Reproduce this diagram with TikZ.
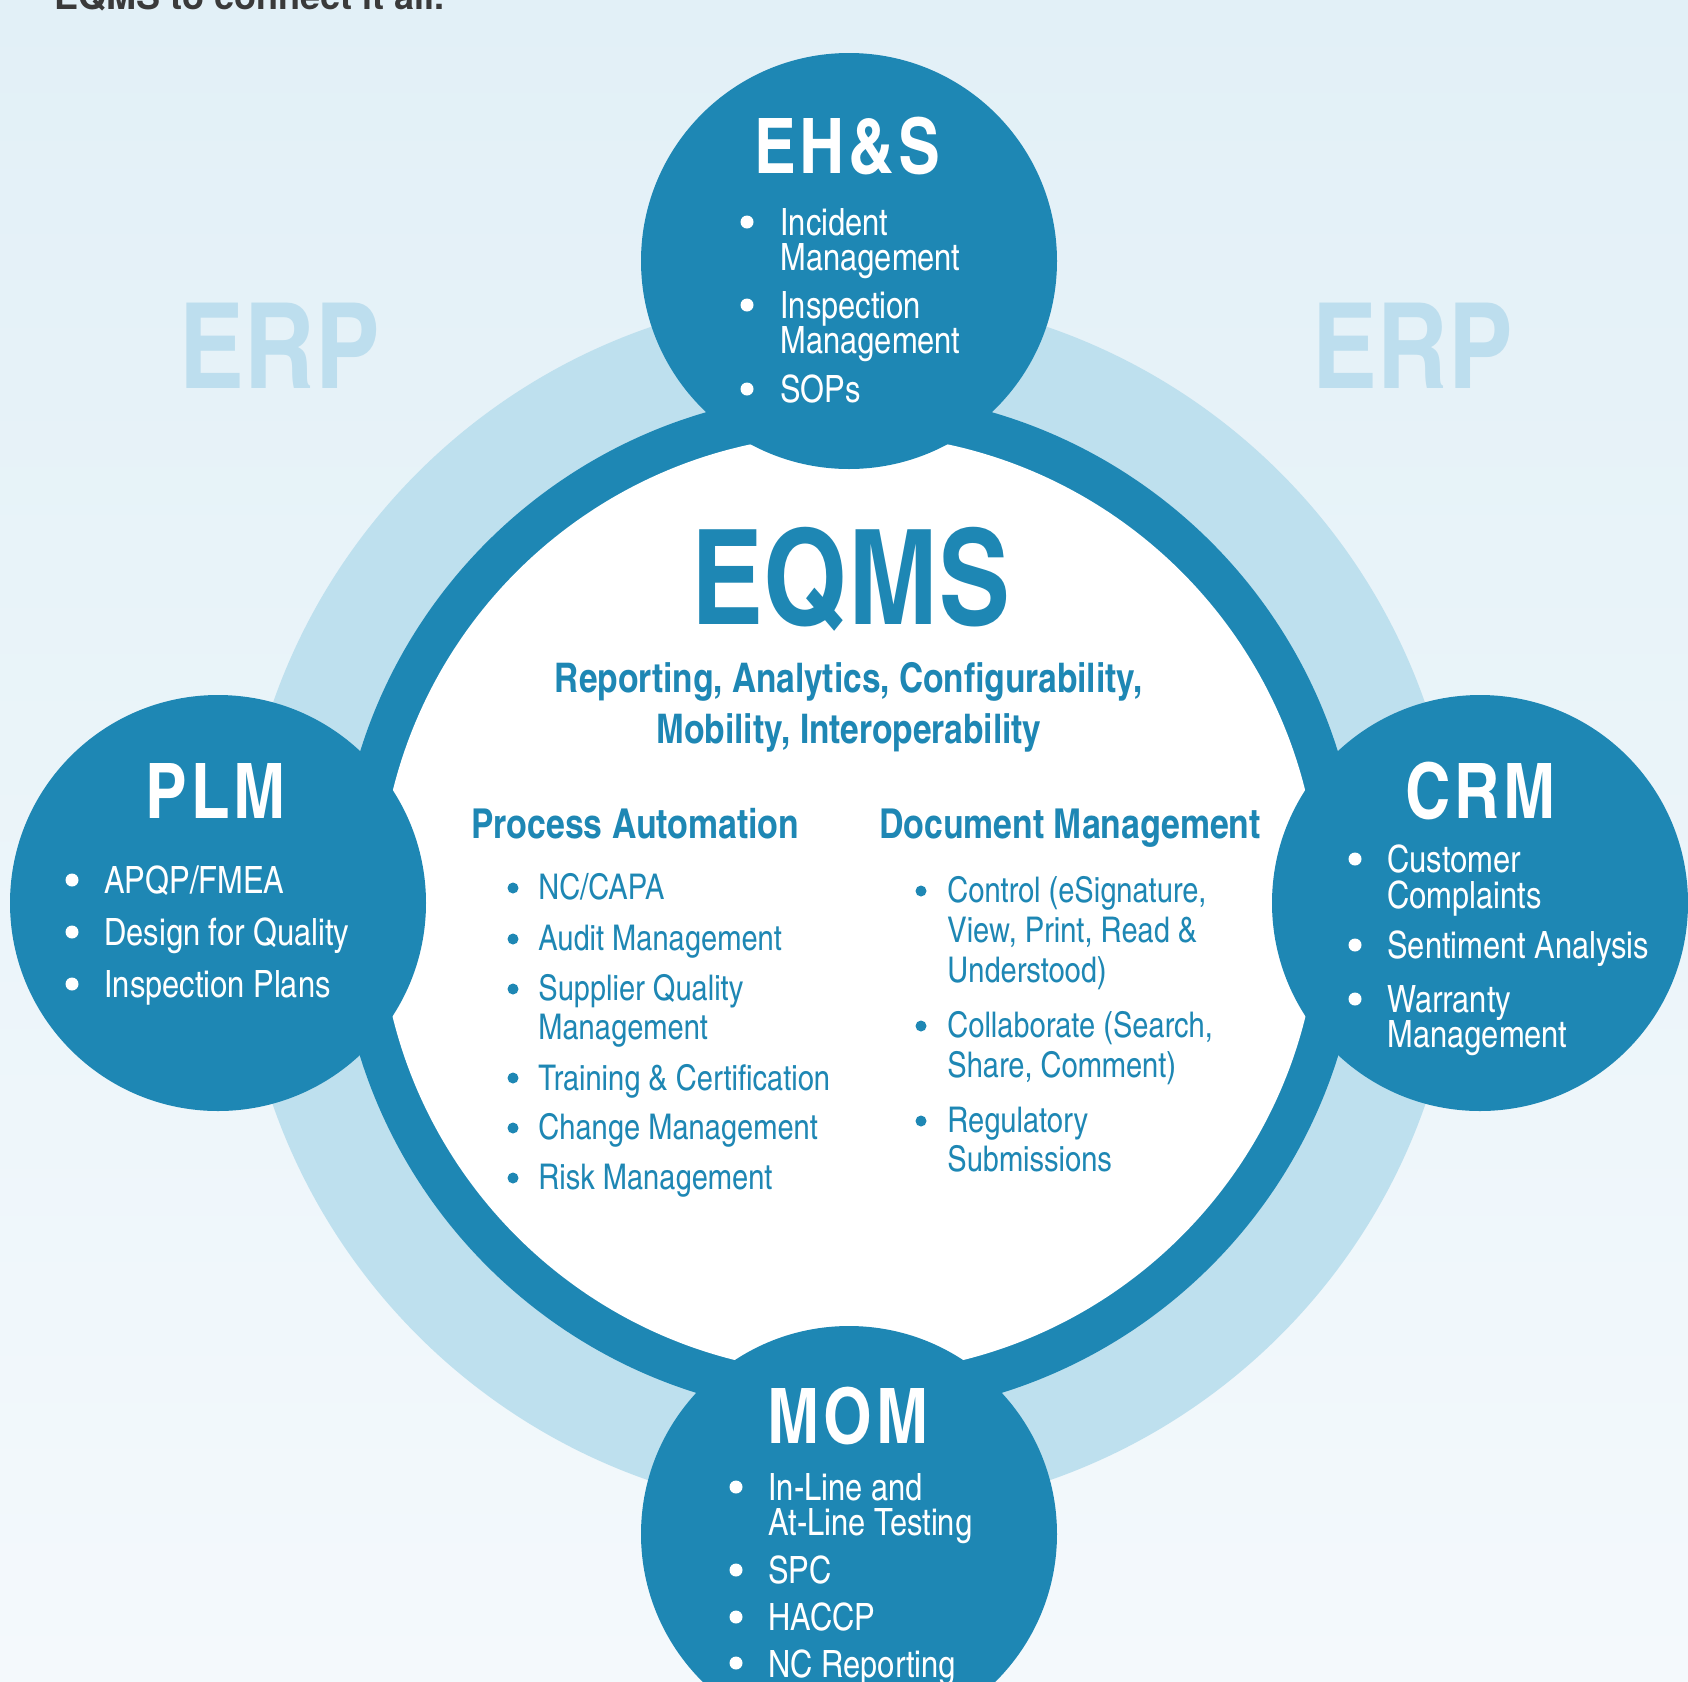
\documentclass[tikz,border=0pt]{standalone}
\usepackage{fontspec}
\setmainfont{texgyreheroscn}[Extension=.otf, UprightFont=*-regular, BoldFont=*-bold]
\newfontfamily\plainheros{TeX Gyre Heros}

\definecolor{eqblue}{HTML}{1E87B4}
\definecolor{ringblue}{HTML}{BEE0EE}
\definecolor{erpblue}{HTML}{BDDEEE}
\definecolor{bgtop}{HTML}{E2F0F7}
\definecolor{bgbottom}{HTML}{F4F9FC}
\definecolor{introgray}{HTML}{3A3A3A}

\tikzset{
  sattitle/.style={anchor=base, inner sep=0pt, text=white, font=\bfseries\fontsize{38.3}{40}\selectfont\addfontfeature{LetterSpace=5}},
  satitem/.style={anchor=base west, inner sep=0pt, text=white, font=\fontsize{18.8}{20}\selectfont},
  coreitem/.style={satitem, text=eqblue, font=\fontsize{17.7}{20}\selectfont},
  corehead/.style={anchor=base west, inner sep=0pt, text=eqblue, font=\bfseries\fontsize{20.6}{22}\selectfont},
  subline/.style={anchor=base, inner sep=0pt, text=eqblue, font=\bfseries\fontsize{20.4}{24}\selectfont},
  erpword/.style={anchor=base, inner sep=0pt, text=erpblue, font=\bfseries\fontsize{59.5}{62}\selectfont},
}

\begin{document}
\begin{tikzpicture}[x=0.5pt, y=-0.5pt]
    \clip (0,0) rectangle (1688,1682);
    \shade[top color=bgtop, bottom color=bgbottom] (0,0) rectangle (1688,1682);
    \node[anchor=base west, inner sep=0pt, text=introgray, font=\plainheros\bfseries\fontsize{18}{20}\selectfont] (intro) at (54,9) {EQMS to connect it all.};
    % rings
    \fill[ringblue] (849,904) circle[radius=610];
    \fill[eqblue] (849,904) circle[radius=512];
    \fill[white] (849,904) circle[radius=470];
    \node[erpword] (erpL) at (280,388) {ERP};
    \node[erpword] (erpR) at (1413,388) {ERP};
    % satellites
    \fill[eqblue] (849,261) circle[radius=208];
    \fill[eqblue] (218,903) circle[radius=208];
    \fill[eqblue] (1480,903) circle[radius=208];
    \fill[eqblue] (849,1534) circle[radius=208];
    % EH&S
    \node[sattitle] (ehsT) at (847,173) {EH\&S};
    \fill[white] (747,222) circle[radius=6.5];
    \fill[white] (747,305) circle[radius=6.5];
    \fill[white] (747,389) circle[radius=6.5];
    \node[satitem] (ehs1) at (780,235) {Incident};
    \node[satitem] (ehs2) at (780,270) {Management};
    \node[satitem] (ehs3) at (780,318) {Inspection};
    \node[satitem] (ehs4) at (780,353) {Management};
    \node[satitem] (ehs5) at (780,402) {SOPs};
    % PLM
    \node[sattitle] (plmT) at (216,818) {PLM};
    \fill[white] (72,880) circle[radius=6.5];
    \fill[white] (72,932) circle[radius=6.5];
    \fill[white] (72,984) circle[radius=6.5];
    \node[satitem] (plm1) at (104,893) {APQP/FMEA};
    \node[satitem] (plm2) at (104,945) {Design for Quality};
    \node[satitem] (plm3) at (104,997) {Inspection Plans};
    % CRM
    \node[sattitle] (crmT) at (1481,818) {CRM};
    \fill[white] (1355,859) circle[radius=6.5];
    \fill[white] (1355,945) circle[radius=6.5];
    \fill[white] (1355,999) circle[radius=6.5];
    \node[satitem] (crm1) at (1387,872) {Customer};
    \node[satitem] (crm2) at (1387,908) {Complaints};
    \node[satitem] (crm3) at (1387,958) {Sentiment Analysis};
    \node[satitem] (crm4) at (1387,1012) {Warranty};
    \node[satitem] (crm5) at (1387,1047) {Management};
    % MOM
    \node[sattitle] (momT) at (848,1443) {MOM};
    \fill[white] (736,1487) circle[radius=6.5];
    \fill[white] (736,1570) circle[radius=6.5];
    \fill[white] (736,1617) circle[radius=6.5];
    \fill[white] (736,1663) circle[radius=6.5];
    \node[satitem] (mom1) at (768,1500) {In-Line and};
    \node[satitem] (mom2) at (768,1535) {At-Line Testing};
    \node[satitem] (mom3) at (768,1583) {SPC};
    \node[satitem] (mom4) at (768,1630) {HACCP};
    \node[satitem] (mom5) at (768,1677) {NC Reporting};
    % EQMS core
    \node[anchor=base, inner sep=0pt, text=eqblue, font=\bfseries\fontsize{66}{66}\selectfont] (eqms) at (851,624) {EQMS};
    \node[subline] (sub1) at (849,692) {Reporting, Analytics, Configurability,};
    \node[subline] (sub2) at (849,743) {Mobility, Interoperability};
    \node[corehead] (pa) at (471,838) {Process Automation};
    \node[corehead] (dm) at (879,838) {Document Management};
    \fill[eqblue] (513,888) circle[radius=5.5];
    \fill[eqblue] (513,939) circle[radius=5.5];
    \fill[eqblue] (513,989) circle[radius=5.5];
    \fill[eqblue] (513,1078) circle[radius=5.5];
    \fill[eqblue] (513,1128) circle[radius=5.5];
    \fill[eqblue] (513,1178) circle[radius=5.5];
    \node[coreitem] (pa1) at (538,899) {NC/CAPA};
    \node[coreitem] (pa2) at (538,950) {Audit Management};
    \node[coreitem] (pa3) at (538,1000) {Supplier Quality};
    \node[coreitem] (pa4) at (538,1039) {Management};
    \node[coreitem] (pa5) at (538,1090) {Training \& Certification};
    \node[coreitem] (pa6) at (538,1139) {Change Management};
    \node[coreitem] (pa7) at (538,1189) {Risk Management};
    \fill[eqblue] (921,891) circle[radius=5.5];
    \fill[eqblue] (921,1026) circle[radius=5.5];
    \fill[eqblue] (921,1121) circle[radius=5.5];
    \node[coreitem] (dm1) at (947,902) {Control (eSignature,};
    \node[coreitem] (dm2) at (947,942) {View, Print, Read \&};
    \node[coreitem] (dm3) at (947,982) {Understood)};
    \node[coreitem] (dm4) at (947,1037) {Collaborate (Search,};
    \node[coreitem] (dm5) at (947,1077) {Share, Comment)};
    \node[coreitem] (dm6) at (947,1132) {Regulatory};
    \node[coreitem] (dm7) at (947,1171) {Submissions};
\end{tikzpicture}
\end{document}
